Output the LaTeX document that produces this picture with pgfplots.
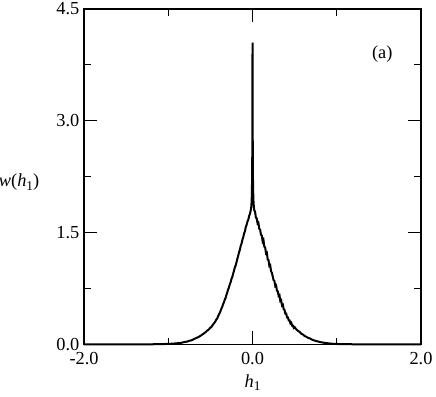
\documentclass[border=0pt]{standalone}
\usepackage{fontspec}
\setmainfont{Liberation Serif}
\usepackage{pgfplots}
\pgfplotsset{compat=1.18}
\usetikzlibrary{calc}

\pgfplotstableread{
x y
-2.000 0.000
-1.200 0.000
-1.100 0.001
-1.000 0.005
-0.950 0.008
-0.900 0.013
-0.850 0.019
-0.800 0.032
-0.775 0.036
-0.750 0.047
-0.725 0.053
-0.700 0.067
-0.680 0.078
-0.660 0.088
-0.640 0.098
-0.620 0.112
-0.600 0.127
-0.580 0.143
-0.560 0.160
-0.540 0.182
-0.520 0.197
-0.500 0.225
-0.490 0.228
-0.480 0.248
-0.470 0.262
-0.460 0.278
-0.450 0.292
-0.440 0.310
-0.430 0.334
-0.420 0.345
-0.410 0.372
-0.400 0.398
-0.390 0.418
-0.380 0.446
-0.370 0.478
-0.360 0.502
-0.350 0.535
-0.340 0.562
-0.330 0.596
-0.320 0.622
-0.310 0.662
-0.300 0.695
-0.290 0.735
-0.280 0.762
-0.270 0.804
-0.260 0.832
-0.250 0.878
-0.240 0.902
-0.230 0.948
-0.220 0.985
-0.210 1.032
-0.200 1.058
-0.190 1.102
-0.180 1.148
-0.170 1.188
-0.160 1.236
-0.150 1.268
-0.140 1.322
-0.130 1.352
-0.120 1.402
-0.110 1.438
-0.100 1.488
-0.090 1.518
-0.080 1.572
-0.070 1.604
-0.060 1.648
-0.050 1.672
-0.040 1.724
-0.030 1.752
-0.020 1.806
-0.015 1.840
-0.010 1.930
-0.006 2.150
-0.003 2.550
0.000 4.050
0.003 2.550
0.006 2.150
0.010 1.950
0.015 1.860
0.020 1.800
0.030 1.780
0.040 1.700
0.050 1.690
0.060 1.620
0.070 1.630
0.080 1.550
0.090 1.540
0.100 1.470
0.110 1.460
0.120 1.380
0.130 1.400
0.140 1.310
0.150 1.300
0.160 1.220
0.170 1.230
0.180 1.140
0.190 1.130
0.200 1.050
0.210 1.060
0.220 0.980
0.230 0.960
0.240 0.910
0.250 0.860
0.260 0.850
0.270 0.780
0.280 0.790
0.290 0.720
0.300 0.710
0.310 0.650
0.320 0.660
0.330 0.580
0.340 0.590
0.350 0.520
0.360 0.530
0.370 0.470
0.380 0.460
0.390 0.410
0.400 0.410
0.410 0.360
0.420 0.360
0.430 0.320
0.440 0.320
0.450 0.280
0.460 0.290
0.470 0.250
0.480 0.250
0.490 0.220
0.500 0.230
0.520 0.200
0.540 0.180
0.560 0.165
0.580 0.140
0.600 0.130
0.620 0.110
0.640 0.100
0.660 0.085
0.680 0.080
0.700 0.065
0.725 0.055
0.750 0.045
0.775 0.038
0.800 0.030
0.850 0.020
0.900 0.012
0.950 0.007
1.000 0.004
1.100 0.001
1.200 0.000
2.000 0.000
}\wdata

\begin{document}
\fontsize{11}{13}\selectfont
\begin{tikzpicture}
\begin{axis}[
    scale only axis,
    width=202pt, height=201pt,
    xmin=-2, xmax=2, ymin=0, ymax=4.5,
    axis line style={line width=0.8pt},
    xtick={-2,0,2}, xticklabels={-2.0,0.0,2.0},
    ytick={0,1.5,3,4.5}, yticklabels={0.0,1.5,3.0,4.5},
    minor xtick={-1,1}, minor ytick={0.75,2.25,3.75},
    tick align=inside,
    major tick length=8pt, minor tick length=4pt,
    tick style={line width=0.7pt, black},
    tick label style={font=\fontsize{11}{13}\selectfont},
    xticklabel style={yshift=-1pt},
    yticklabel style={xshift=1pt},
    clip=false,
]
\addplot[black, line width=1.2pt] table[x=x, y=y] {\wdata};
\node at (axis cs:1.54,3.89) {(a)};
\node[anchor=east, xshift=-23pt] at (rel axis cs:0,0.484)
    {\textit{w}(\textit{h}\raisebox{-0.45ex}{\fontsize{8}{9}\selectfont 1})};
\node[yshift=-23pt] at (rel axis cs:0.5,0)
    {\textit{h}\raisebox{-0.45ex}{\fontsize{8}{9}\selectfont 1}};
\end{axis}
\pgfresetboundingbox
\path[use as bounding box] ($(current axis.south west)+(-50.4pt,-31.5pt)$)
    rectangle ($(current axis.north east)+(9pt,5.4pt)$);
\end{tikzpicture}
\end{document}
